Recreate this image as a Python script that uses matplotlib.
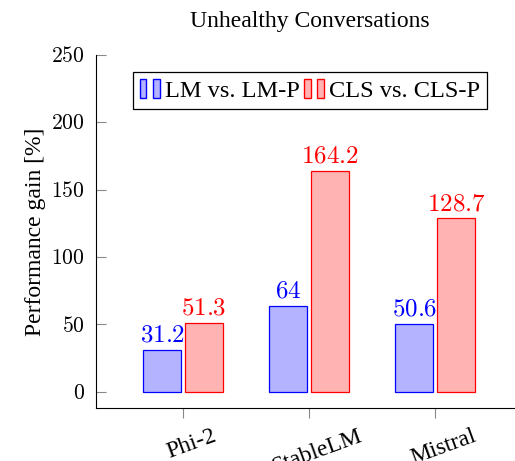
import numpy as np
import matplotlib.pyplot as plt
from matplotlib.patches import Rectangle
from matplotlib.legend_handler import HandlerTuple
from matplotlib.ticker import FuncFormatter

plt.rcParams['font.family'] = 'Liberation Serif'
plt.rcParams['mathtext.fontset'] = 'cm'

models = ['Phi-2', 'StableLM', 'Mistral']
lm_gain = [31.2, 64, 50.6]
cls_gain = [51.3, 164.2, 128.7]
series_names = ['LM vs. LM-P', 'CLS vs. CLS-P']

blue_fill, blue_edge = '#b3b3ff', '#0000ff'
red_fill, red_edge = '#ffb3b3', '#ff0000'

fig = plt.figure(figsize=(5.15, 4.61), dpi=100)
# axis runs a little past the right edge, like the cropped original
ax = fig.add_axes([0.1864, 0.115, 0.831, 0.766])

x = np.arange(len(models))
w = 0.3
off = 0.165
ax.bar(x - off, lm_gain, w, facecolor=blue_fill, edgecolor=blue_edge, linewidth=0.9)
ax.bar(x + off, cls_gain, w, facecolor=red_fill, edgecolor=red_edge, linewidth=0.9)

for xi, v in zip(x - off, lm_gain):
    ax.annotate(f'${v:g}$', (xi, v), xytext=(0, 2), textcoords='offset points',
                ha='center', va='bottom', color=blue_edge, fontsize=18)
for xi, v in zip(x + off, cls_gain):
    ax.annotate(f'${v:g}$', (xi, v), xytext=(0, 2), textcoords='offset points',
                ha='center', va='bottom', color=red_edge, fontsize=18)

ax.set_xlim(-0.69, 2.706)
ax.set_ylim(-12, 250)
ax.set_yticks([0, 50, 100, 150, 200, 250])
ax.yaxis.set_major_formatter(FuncFormatter(lambda v, p: f'${v:g}$'))
ax.set_xticks(x)
ax.set_xticklabels([])
# rotated model names, nudged right of the tick as in the original
for xi, name in zip(x, models):
    ax.annotate(name, (xi, 0), xycoords=ax.get_xaxis_transform(),
                xytext=(6, -12.5), textcoords='offset points',
                ha='center', va='top', rotation=20, fontsize=17, annotation_clip=False)

ax.spines['top'].set_visible(False)
ax.spines['right'].set_visible(False)
ax.tick_params(axis='y', direction='in', length=7, color='#888888', labelsize=15.5, pad=8)
ax.tick_params(axis='x', direction='out', length=7, color='#888888')

ax.set_ylabel('Performance gain [%]', fontsize=17, labelpad=4)
ax.set_title('Unhealthy Conversations', fontsize=17, pad=20)

def pair(fc, ec):
    return (Rectangle((0, 0), 1, 1, facecolor=fc, edgecolor=ec),
            Rectangle((0, 0), 1, 1, facecolor=fc, edgecolor=ec))

leg = ax.legend([pair(blue_fill, blue_edge), pair(red_fill, red_edge)], series_names,
                handler_map={tuple: HandlerTuple(ndivide=None, pad=0.28)},
                loc='upper center', bbox_to_anchor=(0.5, 0.952), ncol=2, fontsize=17.6,
                frameon=True, fancybox=False, edgecolor='black', framealpha=1,
                handlelength=0.8, handleheight=0.78, handletextpad=0.2, columnspacing=0.2,
                borderpad=0.3, borderaxespad=0)
leg.get_frame().set_linewidth(0.9)

fig.savefig('out.png', dpi=100)
